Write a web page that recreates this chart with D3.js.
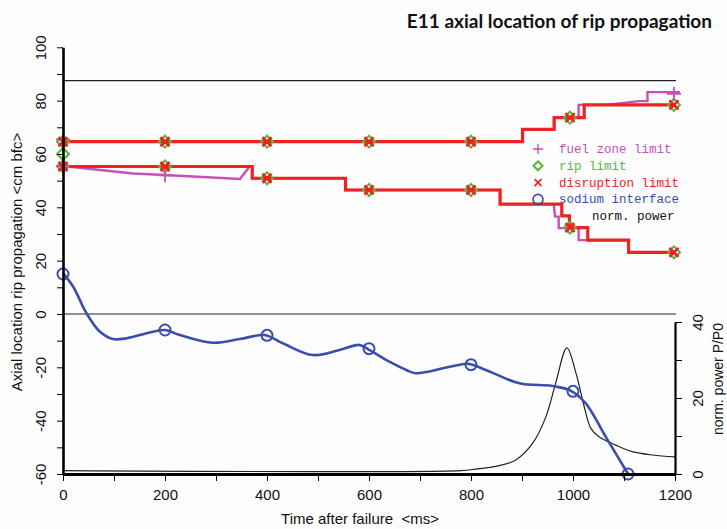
<!DOCTYPE html>
<html>
<head>
<meta charset="utf-8">
<script src="https://cdn.jsdelivr.net/npm/d3@7"></script>
<style>
  body { margin: 0; background: #fdfdfd; }
  svg { display: block; }
</style>
</head>
<body>
<div id="chart"></div>
<script>
// time axis (ms) and left axis (cm bfc)
var xTicks = d3.range( 0, 1201, 100 );
var yTicks = d3.range( -60, 101, 10 );
var pTicks = d3.range( 0, 41, 10 );

// reference levels drawn as thin black lines
var refLevels = [ 87.5, 0 ];

// disruption limit, upper and lower branch (step after)
var disrUpperT = [ 0, 901, 963, 1022, 1200 ];
var disrUpperV = [ 64.6, 69.2, 73.6, 78.4, 78.4 ];
var disrLowerT = [ 0, 371, 554, 857, 978, 993, 1029, 1109, 1200 ];
var disrLowerV = [ 55.3, 50.9, 46.5, 41.2, 36.8, 32.4, 27.7, 23.1, 23.1 ];

// fuel zone limit, upper and lower branch
var fuelUpperT = [ 0, 901, 901, 963, 963, 1011, 1011, 1064, 1130, 1146, 1146, 1210 ];
var fuelUpperV = [ 64.6, 64.6, 69.2, 69.2, 73.6, 73.6, 78.4, 78.4, 79.8, 79.8, 83.2, 83.2 ];
var fuelLowerT = [ 0, 137, 200, 347, 366, 371, 371, 554, 554, 857, 857, 962, 965, 972, 972, 1011, 1011, 1109, 1109, 1200 ];
var fuelLowerV = [ 55.5, 52.7, 52.1, 50.6, 55.3, 55.3, 50.9, 50.9, 46.5, 46.5, 41.2, 41.2, 36.5, 36.5, 32.2, 32.2, 27.7, 27.7, 23.1, 23.1 ];

// sodium interface
var sodiumT = [ 0, 20, 46, 72, 98, 125, 164, 200, 229, 294, 347, 395, 431, 490, 542, 581, 598, 640, 673, 692, 758, 795, 829, 895, 960, 996, 1025, 1064, 1108 ];
var sodiumV = [ 15.3, 10.2, 0.3, -6.6, -9.4, -9.1, -7.2, -6, -7.9, -10.8, -9.4, -7.9, -11, -15.4, -13.5, -11.6, -13.2, -17.9, -21, -22.2, -19.8, -18.7, -21, -26, -27, -28.8, -33.5, -46, -60 ];

// normalised power P/P0 (right axis)
var powerT = [ 0, 780, 810, 855, 888, 921, 947, 966, 988, 1006, 1022, 1035, 1051, 1084, 1116, 1156, 1200 ];
var powerV = [ 0.9, 0.9, 1.3, 2.2, 3.7, 8.1, 15.1, 23.9, 33.2, 26.5, 17.7, 12, 9.8, 7.6, 5.9, 5, 4.5 ];

// markers
var disrMarkT = [ 0, 0, 200, 200, 400, 400, 600, 600, 800, 800, 994, 994, 1198, 1198 ];
var disrMarkV = [ 64.6, 55.3, 64.6, 55.3, 64.6, 50.9, 64.6, 46.5, 64.6, 46.5, 73.6, 32.4, 78.4, 23.1 ];
var ripMarkT = [ 0, 0, 0, 200, 200, 400, 400, 600, 600, 800, 800, 994, 994, 1198, 1198 ];
var ripMarkV = [ 64.6, 60, 55.3, 64.6, 55.3, 64.6, 50.9, 64.6, 46.5, 64.6, 46.5, 73.6, 32.4, 78.4, 23.1 ];
var fuelMarkT = [ 0, 0, 200, 1198 ];
var fuelMarkV = [ 65.5, 55.5, 52, 82.5 ];
var sodiumMarkT = [ 0, 200, 400, 600, 800, 1000, 1108 ];
var sodiumMarkV = [ 15, -6, -8, -13, -19, -29, -60 ];

var legendLabels = [ "fuel zone limit", "rip limit", "disruption limit", "sodium interface", "norm. power" ];

var colFuel = "#c452b6",
    colRip = "#5cb534",
    colDisr = "#ee2222",
    colSodium = "#3a4eac";

var svgWidth = 727, svgHeight = 529;
var margin = { top: 47, right: 51, bottom: 55, left: 63 };

var svg = d3.select( "#chart" ).append( "svg" )
    .attr( "width", svgWidth )
    .attr( "height", svgHeight )
    .style( "font-family", "'Liberation Sans', Arial, sans-serif" );

var xscale = d3.scaleLinear()
    .domain( [0, 1200] )
    .range( [margin.left, svgWidth - margin.right - 1] );

var yscale = d3.scaleLinear()
    .domain( [-60, 100] )
    .range( [svgHeight - margin.bottom, margin.top + 0.3] );

var pscale = d3.scaleLinear()
    .domain( [0, 40] )
    .range( [svgHeight - margin.bottom, 322] );

function zip( t, v ) {
    return t.map( (d, i) => ( { t: d, v: v[i] } ) );
}

// reference lines
svg.selectAll( ".ref-line" )
    .data( refLevels )
    .enter().append( "line" )
        .attr( "class", "ref-line" )
        .attr( "x1", xscale(0) )
        .attr( "x2", xscale(1200) + 1 )
        .attr( "y1", d => yscale(d) )
        .attr( "y2", d => yscale(d) )
        .style( "stroke", "#222" )
        .style( "stroke-width", 1.1 );

// power curve
var powerLine = d3.line()
    .x( d => xscale( d.t ) )
    .y( d => pscale( d.v ) )
    .curve( d3.curveCatmullRom );

svg.append( "path" )
    .datum( zip( powerT, powerV ) )
    .attr( "d", powerLine )
    .style( "fill", "none" )
    .style( "stroke", "#222" )
    .style( "stroke-width", 1.2 );

// sodium interface
var valLine = d3.line()
    .x( d => xscale( d.t ) )
    .y( d => yscale( d.v ) );

svg.append( "path" )
    .datum( zip( sodiumT, sodiumV ) )
    .attr( "d", valLine.curve( d3.curveCatmullRom ) )
    .style( "fill", "none" )
    .style( "stroke", colSodium )
    .style( "stroke-width", 2.6 );

// fuel zone limit
valLine.curve( d3.curveLinear );
[ zip( fuelUpperT, fuelUpperV ), zip( fuelLowerT, fuelLowerV ) ].forEach( function ( dat ) {
    svg.append( "path" )
        .datum( dat )
        .attr( "d", valLine )
        .style( "fill", "none" )
        .style( "stroke", colFuel )
        .style( "stroke-width", 2.4 );
});

// disruption limit
var stepLine = d3.line()
    .x( d => xscale( d.t ) )
    .y( d => yscale( d.v ) )
    .curve( d3.curveStepAfter );

[ zip( disrUpperT, disrUpperV ), zip( disrLowerT, disrLowerV ) ].forEach( function ( dat ) {
    svg.append( "path" )
        .datum( dat )
        .attr( "d", stepLine )
        .style( "fill", "none" )
        .style( "stroke", colDisr )
        .style( "stroke-width", 3.2 );
});

// rip limit vertical at t=0
svg.append( "line" )
    .attr( "x1", xscale(0) ).attr( "x2", xscale(0) )
    .attr( "y1", yscale(64.6) ).attr( "y2", yscale(55.3) )
    .style( "stroke", colRip )
    .style( "stroke-width", 2 );

// marker symbols
function diamond( g, s ) {
    g.append( "path" )
        .attr( "d", "M0," + (-s) + "L" + s + ",0L0," + s + "L" + (-s) + ",0Z" )
        .style( "fill", "none" )
        .style( "stroke", colRip )
        .style( "stroke-width", 2 );
}
function cross( g, s, col, w ) {
    g.append( "path" )
        .attr( "d", "M" + (-s) + "," + (-s) + "L" + s + "," + s + "M" + (-s) + "," + s + "L" + s + "," + (-s) )
        .style( "stroke", col )
        .style( "stroke-width", w );
}
function plus( g, s, col, w ) {
    g.append( "path" )
        .attr( "d", "M" + (-s) + ",0L" + s + ",0M0," + (-s) + "L0," + s )
        .style( "stroke", col )
        .style( "stroke-width", w );
}

svg.selectAll( ".rip-mark" )
    .data( zip( ripMarkT, ripMarkV ) )
    .enter().append( "g" )
        .attr( "class", "rip-mark" )
        .attr( "transform", d => "translate(" + xscale( d.t ) + "," + yscale( d.v ) + ")" )
        .each( function () { diamond( d3.select(this), 6 ); } );

svg.selectAll( ".fuel-mark" )
    .data( zip( fuelMarkT, fuelMarkV ) )
    .enter().append( "g" )
        .attr( "class", "fuel-mark" )
        .attr( "transform", d => "translate(" + xscale( d.t ) + "," + yscale( d.v ) + ")" )
        .each( function () { plus( d3.select(this), 7, colFuel, 1.8 ); } );

svg.selectAll( ".disr-mark" )
    .data( zip( disrMarkT, disrMarkV ) )
    .enter().append( "g" )
        .attr( "class", "disr-mark" )
        .attr( "transform", d => "translate(" + xscale( d.t ) + "," + yscale( d.v ) + ")" )
        .each( function () { cross( d3.select(this), 4.5, colDisr, 2.6 ); } );

svg.selectAll( ".sodium-mark" )
    .data( zip( sodiumMarkT, sodiumMarkV ) )
    .enter().append( "circle" )
        .attr( "class", "sodium-mark" )
        .attr( "cx", d => xscale( d.t ) )
        .attr( "cy", d => yscale( d.v ) )
        .attr( "r", 5.5 )
        .style( "fill", "none" )
        .style( "stroke", colSodium )
        .style( "stroke-width", 2 );

// axes
var yAxis = d3.axisLeft( yscale )
    .tickValues( yTicks )
    .tickSize( 6 )
    .tickSizeOuter( 0 )
    .tickFormat( d => d % 20 == 0 ? d : "" );

var gY = svg.append( "g" )
    .attr( "transform", "translate(" + xscale(0) + ",0)" )
    .call( yAxis );
gY.select( ".domain" ).style( "stroke-width", 2.6 );
gY.selectAll( "text" )
    .attr( "transform", "rotate(-90)" )
    .attr( "x", 0 )
    .attr( "y", -17 )
    .attr( "dy", 0 )
    .attr( "text-anchor", "middle" )
    .style( "font-size", "15px" )
    .style( "font-family", "'Liberation Sans', Arial, sans-serif" )
    .attr( "fill", "#111" );

var xAxis = d3.axisBottom( xscale )
    .tickValues( xTicks )
    .tickSize( 7 )
    .tickSizeOuter( 0 )
    .tickFormat( d => d % 200 == 0 ? d : "" );

var gX = svg.append( "g" )
    .attr( "transform", "translate(0," + yscale(-60) + ")" )
    .call( xAxis );
gX.select( ".domain" ).style( "stroke-width", 3 );
gX.selectAll( "text" )
    .attr( "y", 15 )
    .style( "font-size", "15px" )
    .style( "font-family", "'Liberation Sans', Arial, sans-serif" )
    .attr( "fill", "#111" );

var pAxis = d3.axisRight( pscale )
    .tickValues( pTicks )
    .tickSize( 7 )
    .tickSizeOuter( 0 )
    .tickFormat( d => d % 20 == 0 ? d : "" );

var gP = svg.append( "g" )
    .attr( "transform", "translate(" + xscale(1200) + ",0)" )
    .call( pAxis );
gP.select( ".domain" ).style( "stroke-width", 2.2 );
gP.selectAll( "text" )
    .attr( "transform", "rotate(-90)" )
    .attr( "x", 0 )
    .attr( "y", 28 )
    .attr( "dy", 0 )
    .attr( "text-anchor", "middle" )
    .style( "font-size", "15px" )
    .style( "font-family", "'Liberation Sans', Arial, sans-serif" )
    .attr( "fill", "#111" );

// axis titles
svg.append( "text" )
    .attr( "transform", "translate(22," + 262 + ") rotate(-90)" )
    .attr( "text-anchor", "middle" )
    .style( "font-size", "15px" )
    .attr( "fill", "#111" )
    .text( "Axial location rip propagation <cm bfc>" );

svg.append( "text" )
    .attr( "x", 360 )
    .attr( "y", 524 )
    .attr( "text-anchor", "middle" )
    .style( "font-size", "15px" )
    .attr( "fill", "#111" )
    .style( "white-space", "pre" )
    .text( "Time after failure  <ms>" );

svg.append( "text" )
    .attr( "transform", "translate(723,323) rotate(-90)" )
    .attr( "text-anchor", "end" )
    .style( "font-size", "14px" )
    .attr( "fill", "#111" )
    .text( "norm. power P/P0" );

// title
svg.append( "text" )
    .attr( "x", 712 )
    .attr( "y", 28 )
    .attr( "text-anchor", "end" )
    .style( "font-family", "Lato, 'Open Sans', sans-serif" )
    .style( "font-weight", "bold" )
    .style( "font-size", "19px" )
    .attr( "fill", "#111" )
    .text( "E11 axial location of rip propagation" );

// legend
var legendCols = [ colFuel, colRip, colDisr, colSodium, "#111" ];
var legend = svg.append( "g" )
    .attr( "transform", "translate(538,149)" );

legendLabels.forEach( function ( lab, i ) {
    var row = legend.append( "g" )
        .attr( "transform", "translate(0," + ( i * 16.8 ) + ")" );
    if ( i == 0 ) plus( row, 5, colFuel, 1.4 );
    if ( i == 1 ) diamond( row, 4.5 );
    if ( i == 2 ) cross( row, 3.5, colDisr, 1.6 );
    if ( i == 3 ) row.append( "circle" ).attr( "r", 5 ).style( "fill", "none" ).style( "stroke", colSodium ).style( "stroke-width", 1.6 );
    row.append( "text" )
        .attr( "x", i == 4 ? 54 : 21 )
        .attr( "y", 4 )
        .style( "font-family", "'Liberation Mono', 'Courier New', monospace" )
        .style( "font-size", "12.5px" )
        .attr( "fill", legendCols[i] )
        .text( lab );
});
</script>
</body>
</html>
